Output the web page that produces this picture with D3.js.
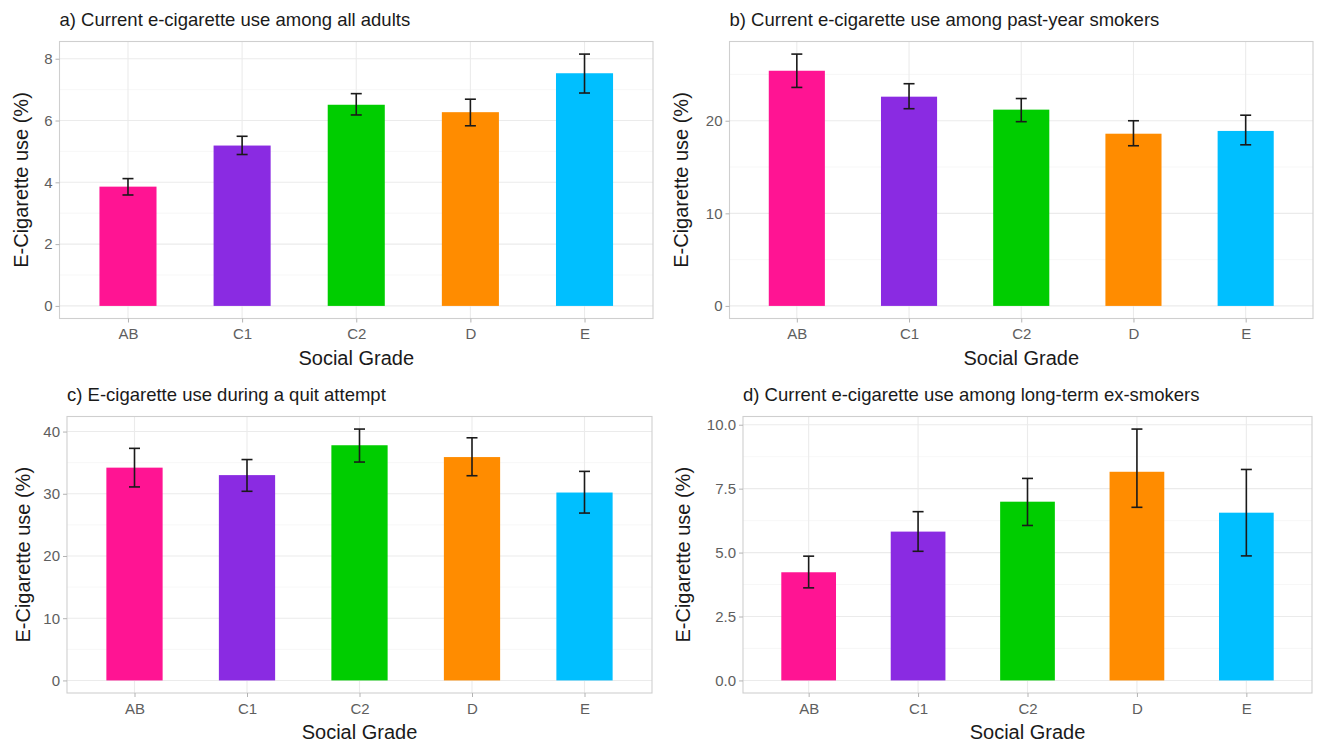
<!DOCTYPE html>
<html>
<head>
<meta charset="utf-8">
<script src="https://cdn.jsdelivr.net/npm/d3@7"></script>
<style>
  body { margin: 0; background: #fff; }
  svg { font-family: "Liberation Sans", Arial, sans-serif; }
</style>
</head>
<body>
<svg id="chart" width="1323" height="745"></svg>
<script>
// categories and colours
var grades = ["AB", "C1", "C2", "D", "E"];
var barColors = ["#ff1493", "#8a2be2", "#00cd00", "#ff8c00", "#00bfff"];

// a) all adults
var valuesA = [3.86, 5.19, 6.51, 6.27, 7.53];
var lowerA = [3.59, 4.90, 6.18, 5.83, 6.89];
var upperA = [4.12, 5.49, 6.87, 6.69, 8.15];

// b) past-year smokers
var valuesB = [25.4, 22.6, 21.2, 18.6, 18.9];
var lowerB = [23.6, 21.3, 19.9, 17.3, 17.4];
var upperB = [27.2, 24.0, 22.4, 20.0, 20.6];

// c) quit attempt
var valuesC = [34.2, 33.0, 37.8, 35.9, 30.2];
var lowerC = [31.1, 30.4, 35.1, 32.9, 26.9];
var upperC = [37.3, 35.5, 40.4, 39.0, 33.6];

// d) long-term ex-smokers
var valuesD = [4.23, 5.82, 6.99, 8.16, 6.56];
var lowerD = [3.62, 5.05, 6.06, 6.77, 4.87];
var upperD = [4.86, 6.60, 7.90, 9.83, 8.25];

var panels = [
  { title: "a) Current e-cigarette use among all adults", values: valuesA, lower: lowerA, upper: upperA,
    ticks: [0, 2, 4, 6, 8], minor: [1, 3, 5, 7], fmt: d3.format("d"),
    box: { l: 59.5, r: 653, t: 41.5, b: 318.5 }, titleY: 26, yTitleX: 21 },
  { title: "b) Current e-cigarette use among past-year smokers", values: valuesB, lower: lowerB, upper: upperB,
    ticks: [0, 10, 20], minor: [5, 15, 25], fmt: d3.format("d"),
    box: { l: 729.5, r: 1313, t: 41.5, b: 318.5 }, titleY: 26, yTitleX: 681 },
  { title: "c) E-cigarette use during a quit attempt", values: valuesC, lower: lowerC, upper: upperC,
    ticks: [0, 10, 20, 30, 40], minor: [5, 15, 25, 35], fmt: d3.format("d"),
    box: { l: 67, r: 652, t: 416.5, b: 693 }, titleY: 401, yTitleX: 23 },
  { title: "d) Current e-cigarette use among long-term ex-smokers", values: valuesD, lower: lowerD, upper: upperD,
    ticks: [0, 2.5, 5, 7.5, 10], minor: [1.25, 3.75, 6.25, 8.75], fmt: d3.format(".1f"),
    box: { l: 743, r: 1312, t: 416.5, b: 693 }, titleY: 401, yTitleX: 683 }
];

var svg = d3.select("#chart");

panels.forEach(function (p) {
  var g = svg.append("g");
  var b = p.box;

  // ggplot-style 5% expansion
  var maxV = d3.max(p.upper);
  var pad = maxV * 0.05;
  var y = d3.scaleLinear().domain([-pad, maxV + pad]).range([b.b, b.t]);

  // discrete axis: positions 1..5, limits 0.4..5.6
  var xPos = d3.scaleLinear().domain([0.4, 5.6]).range([b.l, b.r]);
  var barW = xPos(1.5) - xPos(1);

  // minor grid
  g.selectAll(".minorY").data(p.minor).enter().append("line")
    .attr("x1", b.l).attr("x2", b.r)
    .attr("y1", function (d) { return y(d); }).attr("y2", function (d) { return y(d); })
    .attr("stroke", "#f2f2f2").attr("stroke-width", 0.6);

  // major grid
  g.selectAll(".majorY").data(p.ticks).enter().append("line")
    .attr("x1", b.l).attr("x2", b.r)
    .attr("y1", function (d) { return y(d); }).attr("y2", function (d) { return y(d); })
    .attr("stroke", "#ebebeb").attr("stroke-width", 1.1);
  g.selectAll(".majorX").data(grades).enter().append("line")
    .attr("x1", function (d, i) { return xPos(i + 1); }).attr("x2", function (d, i) { return xPos(i + 1); })
    .attr("y1", b.t).attr("y2", b.b)
    .attr("stroke", "#ebebeb").attr("stroke-width", 1.1);

  // bars
  g.selectAll(".bar").data(p.values).enter().append("rect")
    .attr("x", function (d, i) { return xPos(i + 1) - barW / 2; })
    .attr("y", function (d) { return y(d); })
    .attr("width", barW)
    .attr("height", function (d) { return y(0) - y(d); })
    .attr("fill", function (d, i) { return barColors[i]; });

  // error bars
  var capW = 11;
  var eb = g.selectAll(".err").data(p.values).enter().append("g")
    .attr("stroke", "#1a1a1a").attr("stroke-width", 1.6);
  eb.append("line")
    .attr("x1", function (d, i) { return xPos(i + 1); }).attr("x2", function (d, i) { return xPos(i + 1); })
    .attr("y1", function (d, i) { return y(p.lower[i]); }).attr("y2", function (d, i) { return y(p.upper[i]); });
  eb.append("line")
    .attr("x1", function (d, i) { return xPos(i + 1) - capW / 2; }).attr("x2", function (d, i) { return xPos(i + 1) + capW / 2; })
    .attr("y1", function (d, i) { return y(p.upper[i]); }).attr("y2", function (d, i) { return y(p.upper[i]); });
  eb.append("line")
    .attr("x1", function (d, i) { return xPos(i + 1) - capW / 2; }).attr("x2", function (d, i) { return xPos(i + 1) + capW / 2; })
    .attr("y1", function (d, i) { return y(p.lower[i]); }).attr("y2", function (d, i) { return y(p.lower[i]); });

  // panel border
  g.append("rect")
    .attr("x", b.l).attr("y", b.t).attr("width", b.r - b.l).attr("height", b.b - b.t)
    .attr("fill", "none").attr("stroke", "#cfcfcf").attr("stroke-width", 1.1);

  // y axis
  var yAxis = d3.axisLeft(y).tickValues(p.ticks).tickFormat(p.fmt).tickSize(4).tickPadding(3);
  var ya = g.append("g").attr("transform", "translate(" + b.l + ",0)").call(yAxis);
  ya.select(".domain").remove();
  ya.selectAll(".tick line").attr("stroke", "#b3b3b3");
  ya.selectAll(".tick text").attr("fill", "#5e5e5e").style("font-size", "15px");

  // x axis
  var xBand = d3.scalePoint().domain(grades).range([xPos(1), xPos(5)]);
  var xAxis = d3.axisBottom(xBand).tickSize(4).tickPadding(6);
  var xa = g.append("g").attr("transform", "translate(0," + b.b + ")").call(xAxis);
  xa.select(".domain").remove();
  xa.selectAll(".tick line").attr("stroke", "#b3b3b3");
  xa.selectAll(".tick text").attr("fill", "#5e5e5e").style("font-size", "15px");

  // titles
  g.append("text").attr("x", b.l).attr("y", p.titleY)
    .attr("fill", "#1a1a1a").style("font-size", "18.5px").text(p.title);
  g.append("text").attr("x", (b.l + b.r) / 2).attr("y", b.b + 46)
    .attr("text-anchor", "middle").attr("fill", "#1a1a1a").style("font-size", "20px").text("Social Grade");
  g.append("text")
    .attr("transform", "translate(" + (p.yTitleX + 7) + "," + ((b.t + b.b) / 2) + ") rotate(-90)")
    .attr("text-anchor", "middle").attr("fill", "#1a1a1a").style("font-size", "20px").text("E-Cigarette use (%)");
});
</script>
</body>
</html>
